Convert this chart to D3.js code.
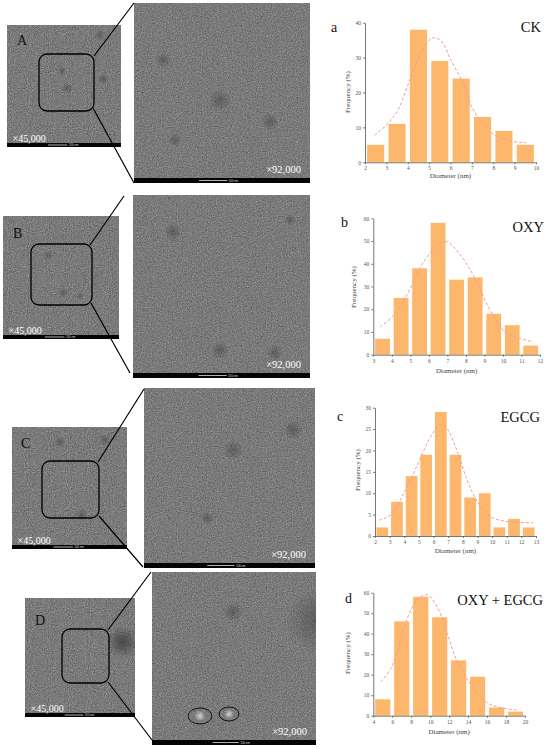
<!DOCTYPE html>
<html>
<head>
<meta charset="utf-8">
<script src="https://cdn.jsdelivr.net/npm/d3@7"></script>
<style>
  body { margin: 0; background: #fff; }
  svg { display: block; }
</style>
</head>
<body>
<div id="container"></div>
<script>
/* DATA */
const binsA = [2, 3, 4, 5, 6, 7, 8, 9];
const freqA = [5, 11, 38, 29, 24, 13, 9, 5];
const fitA = [[2.45, 7.8], [3, 10.7], [3.5, 14.5], [4, 22], [4.5, 30], [5, 35], [5.25, 35.7], [5.6, 34.5], [6, 29.5], [6.6, 22.6], [7.07, 15], [7.85, 8.8], [8.6, 6.4], [9.55, 5.6]];
const xTicksA = [2, 3, 4, 5, 6, 7, 8, 9, 10];
const yTicksA = [0, 10, 20, 30, 40];

const binsB = [3, 4, 5, 6, 7, 8, 9, 10, 11];
const freqB = [7, 25, 38, 58, 33, 34, 18, 13, 4];
const fitB = [[3.36, 12.3], [4, 16.5], [4.8, 26], [5.5, 38], [6.1, 45], [6.6, 49], [6.9, 50], [7.5, 46], [8.4, 35], [9.3, 19.7], [10.2, 9.4], [10.9, 7.2], [11.6, 5.7]];
const xTicksB = [3, 4, 5, 6, 7, 8, 9, 10, 11, 12];
const yTicksB = [0, 10, 20, 30, 40, 50, 60];

const binsC = [2, 3, 4, 5, 6, 7, 8, 9, 10, 11, 12];
const freqC = [2, 8, 14, 19, 29, 19, 9, 10, 2, 4, 2];
const fitC = [[2.27, 3.7], [3.07, 4.9], [3.97, 10], [4.9, 16.6], [5.8, 23.2], [6.47, 26], [6.9, 25.2], [7.6, 20], [8.3, 13], [9, 8], [9.9, 4.5], [11, 3.4], [12.8, 3.1]];
const xTicksC = [2, 3, 4, 5, 6, 7, 8, 9, 10, 11, 12, 13];
const yTicksC = [0, 5, 10, 15, 20, 25, 30];

const binsD = [4, 6, 8, 10, 12, 14, 16, 18];
const freqD = [8, 46, 58, 48, 27, 19, 4, 2];
const fitD = [[4.8, 16.6], [5.85, 23], [6.9, 37], [7.95, 51.5], [9, 58], [9.7, 59], [10.75, 53], [11.8, 40], [12.8, 27], [14.2, 15.8], [15.6, 7.6], [17, 4.4], [19.1, 2.8]];
const xTicksD = [4, 6, 8, 10, 12, 14, 16, 18, 20];
const yTicksD = [0, 10, 20, 30, 40, 50, 60];

const groups = ["CK", "OXY", "EGCG", "OXY + EGCG"];

/* LAYOUT */
const W = 550, H = 749;
const serif = "'Liberation Serif', 'DejaVu Serif', serif";

const svg = d3.select("#container")
  .append("svg")
    .attr("width", W)
    .attr("height", H);

const defs = svg.append("defs");

// TEM-like grain: medium gray with fine light speckles
function grainFilter(id, freq, seed) {
  const f = defs.append("filter")
    .attr("id", id)
    .attr("x", 0).attr("y", 0).attr("width", 1).attr("height", 1)
    .attr("color-interpolation-filters", "sRGB");
  f.append("feTurbulence")
    .attr("type", "fractalNoise")
    .attr("baseFrequency", freq)
    .attr("numOctaves", 2)
    .attr("seed", seed);
  f.append("feColorMatrix")
    .attr("type", "matrix")
    .attr("values", "0.33 0.33 0.34 0 0  0.33 0.33 0.34 0 0  0.33 0.33 0.34 0 0  0 0 0 0 1");
  const ct = f.append("feComponentTransfer");
  ["R", "G", "B"].forEach(c => ct.append("feFunc" + c)
    .attr("type", "linear").attr("slope", 0.6).attr("intercept", 0.18));
}
grainFilter("grainS", 0.95, 3);
grainFilter("grainB", 0.8, 7);

const dark = defs.append("radialGradient").attr("id", "dark");
dark.append("stop").attr("offset", "0%").attr("stop-color", "#2a2a2a").attr("stop-opacity", 0.38);
dark.append("stop").attr("offset", "100%").attr("stop-color", "#2a2a2a").attr("stop-opacity", 0);
const light = defs.append("radialGradient").attr("id", "light");
light.append("stop").attr("offset", "0%").attr("stop-color", "#eee").attr("stop-opacity", 0.75);
light.append("stop").attr("offset", "100%").attr("stop-color", "#eee").attr("stop-opacity", 0);

const images = [
  { letter: "A", lp: [17, 45],
    small: { x: 7, y: 25, w: 114, h: 122 }, box: { x: 39, y: 54, w: 55, h: 57 },
    big: { x: 134, y: 3, w: 176, h: 180 },
    lines: [[[94, 56], [134, 3]], [[93, 108], [134, 183]]],
    spotsS: [[100, 35, 6], [103, 79, 6], [67, 88, 6], [62, 71, 5]],
    spotsB: [[163, 60, 8], [220, 100, 11], [270, 122, 9], [175, 140, 7]] },
  { letter: "B", lp: [13, 238],
    small: { x: 3, y: 216, w: 116, h: 123 }, box: { x: 31, y: 244, w: 61, h: 61 },
    big: { x: 133, y: 195, w: 177, h: 183 },
    lines: [[[90, 245], [124, 196]], [[91, 303], [130, 373]]],
    spotsS: [[48, 255, 5], [63, 293, 5], [80, 296, 4]],
    spotsB: [[173, 232, 9], [220, 350, 9], [275, 353, 8], [290, 220, 6]] },
  { letter: "C", lp: [21, 448],
    small: { x: 12, y: 427, w: 115, h: 122 }, box: { x: 42, y: 461, w: 57, h: 57 },
    big: { x: 144, y: 388, w: 171, h: 180 },
    lines: [[[98, 462], [144, 389]], [[99, 516], [143, 567]]],
    spotsS: [[82, 515, 6], [60, 442, 6], [105, 440, 6]],
    spotsB: [[233, 450, 10], [293, 430, 10], [207, 518, 7]] },
  { letter: "D", lp: [35, 625],
    small: { x: 25, y: 598, w: 110, h: 119 }, box: { x: 62, y: 629, w: 47, h: 54 },
    big: { x: 152, y: 572, w: 164, h: 173 },
    lines: [[[108, 630], [151, 572]], [[108, 682], [152, 740]]],
    spotsS: [[124, 642, 18], [122, 642, 14]],
    spotsB: [[318, 620, 32], [233, 612, 10]],
    rings: [[200, 716, 12, 8], [229, 714, 10, 7]] }
];

function temImage(g, r, filt, spots, id, magText, barLabel, big) {
  const clip = defs.append("clipPath").attr("id", id);
  clip.append("rect").attr("x", r.x).attr("y", r.y).attr("width", r.w).attr("height", r.h);
  const gi = g.append("g").attr("clip-path", `url(#${id})`);
  gi.append("rect")
    .attr("x", r.x).attr("y", r.y).attr("width", r.w).attr("height", r.h)
    .attr("fill", "#7c7c7c")
    .attr("filter", `url(#${filt})`);
  gi.selectAll("circle.spot")
    .data(spots)
    .join("circle")
    .attr("class", "spot")
    .attr("cx", d => d[0]).attr("cy", d => d[1]).attr("r", d => d[2])
    .attr("fill", "url(#dark)");
  // black scale strip
  const bh = big ? 5 : 4;
  g.append("rect")
    .attr("x", r.x).attr("y", r.y + r.h - bh).attr("width", r.w).attr("height", bh)
    .attr("fill", "#050505");
  const bx = r.x + r.w * (big ? 0.37 : 0.36);
  const bl = r.w * (big ? 0.16 : 0.17);
  g.append("line")
    .attr("x1", bx).attr("x2", bx + bl)
    .attr("y1", r.y + r.h - bh / 2).attr("y2", r.y + r.h - bh / 2)
    .attr("stroke", "#ddd").attr("stroke-width", 0.8);
  g.append("text")
    .attr("x", bx + bl + 1.5).attr("y", r.y + r.h - bh / 2 + 1)
    .attr("font-family", "'Liberation Sans', sans-serif")
    .attr("font-size", 2.8).attr("fill", "#ddd")
    .text(barLabel);
  // magnification
  if (big) {
    g.append("text")
      .attr("x", r.x + r.w - 9).attr("y", r.y + r.h - bh - 5.5)
      .attr("text-anchor", "end")
      .attr("font-family", serif).attr("font-size", 10.5).attr("fill", "#fff")
      .text(magText);
  } else {
    g.append("text")
      .attr("x", r.x + 5.5).attr("y", r.y + r.h - bh - 1.5)
      .attr("font-family", serif).attr("font-size", 10).attr("fill", "#fff")
      .text(magText);
  }
}

images.forEach((p, i) => {
  const g = svg.append("g");
  temImage(g, p.small, "grainS", p.spotsS, "clipS" + i, "×45,000", "200 nm", false);
  temImage(g, p.big, "grainB", p.spotsB, "clipB" + i, "×92,000", "100 nm", true);

  g.append("text")
    .attr("x", p.lp[0]).attr("y", p.lp[1])
    .attr("font-family", serif).attr("font-size", 14).attr("fill", "#111")
    .text(p.letter);

  g.append("rect")
    .attr("x", p.box.x).attr("y", p.box.y)
    .attr("width", p.box.w).attr("height", p.box.h)
    .attr("rx", 8).attr("ry", 8)
    .attr("fill", "none").attr("stroke", "#000").attr("stroke-width", 1.3);

  g.selectAll("line.link")
    .data(p.lines)
    .join("line")
    .attr("class", "link")
    .attr("x1", d => d[0][0]).attr("y1", d => d[0][1])
    .attr("x2", d => d[1][0]).attr("y2", d => d[1][1])
    .attr("stroke", "#000").attr("stroke-width", 1.2);

  if (p.rings) {
    g.selectAll("circle.glow")
      .data(p.rings)
      .join("circle")
      .attr("class", "glow")
      .attr("cx", d => d[0]).attr("cy", d => d[1]).attr("r", d => d[3] * 0.7)
      .attr("fill", "url(#light)");
    g.selectAll("ellipse.ring")
      .data(p.rings)
      .join("ellipse")
      .attr("class", "ring")
      .attr("cx", d => d[0]).attr("cy", d => d[1])
      .attr("rx", d => d[2]).attr("ry", d => d[3])
      .attr("fill", "none").attr("stroke", "#111").attr("stroke-width", 1);
  }
});

/* HISTOGRAMS */
const hists = [
  { letter: "a", title: groups[0], bins: binsA, freq: freqA, fit: fitA, bw: 1,
    xTicks: xTicksA, yTicks: yTicksA,
    x0: 365, x1: 536, yTop: 22.7, yBot: 162.3,
    lp: [331, 32], tp: [541, 32], ylab: [350, 92], xlabY: 178 },
  { letter: "b", title: groups[1], bins: binsB, freq: freqB, fit: fitB, bw: 1,
    xTicks: xTicksB, yTicks: yTicksB,
    x0: 373.3, x1: 540, yTop: 218.3, yBot: 354.7,
    lp: [341, 227], tp: [544, 232], ylab: [356, 287], xlabY: 373 },
  { letter: "c", title: groups[2], bins: binsC, freq: freqC, fit: fitC, bw: 1,
    xTicks: xTicksC, yTicks: yTicksC,
    x0: 375, x1: 536, yTop: 407.7, yBot: 536,
    lp: [337, 421], tp: [540, 422], ylab: [360, 470], xlabY: 553 },
  { letter: "d", title: groups[3], bins: binsD, freq: freqD, fit: fitD, bw: 2,
    xTicks: xTicksD, yTicks: yTicksD,
    x0: 373.3, x1: 525, yTop: 592.7, yBot: 715.7,
    lp: [345, 603], tp: [543, 605], ylab: [350, 653], xlabY: 734 }
];

hists.forEach(h => {
  const g = svg.append("g");
  const x = d3.scaleLinear()
    .domain(d3.extent(h.xTicks))
    .range([h.x0, h.x1]);
  const y = d3.scaleLinear()
    .domain(d3.extent(h.yTicks))
    .range([h.yBot, h.yTop]);

  const pad = h.bw * 0.1;
  g.selectAll("rect.bar")
    .data(h.bins.map((b, i) => ({ b, v: h.freq[i] })))
    .join("rect")
    .attr("class", "bar")
    .attr("x", d => x(d.b + pad))
    .attr("width", d => x(d.b + h.bw - pad) - x(d.b + pad))
    .attr("y", d => y(d.v))
    .attr("height", d => y(0) - y(d.v))
    .attr("fill", "#fdb76c");

  const line = d3.line()
    .x(d => x(d[0]))
    .y(d => y(d[1]))
    .curve(d3.curveCatmullRom);
  g.append("path")
    .datum(h.fit)
    .attr("d", line)
    .attr("fill", "none")
    .attr("stroke", "#f49a9a")
    .attr("stroke-width", 1)
    .attr("stroke-dasharray", "3,2");

  const xAxis = g.append("g")
    .attr("transform", `translate(0,${h.yBot})`)
    .call(d3.axisBottom(x).tickValues(h.xTicks).tickSize(2).tickPadding(2).tickSizeOuter(0));
  const yAxis = g.append("g")
    .attr("transform", `translate(${h.x0},0)`)
    .call(d3.axisLeft(y).tickValues(h.yTicks).tickSize(2).tickPadding(2).tickSizeOuter(0));
  [xAxis, yAxis].forEach(a => {
    a.select(".domain").attr("stroke", "#555").attr("stroke-width", 0.8);
    a.selectAll(".tick line").attr("stroke", "#555").attr("stroke-width", 0.8);
    a.selectAll(".tick text")
      .attr("font-family", serif).attr("font-size", 5.5).attr("fill", "#555");
  });

  g.append("text")
    .attr("x", (h.x0 + h.x1) / 2).attr("y", h.xlabY)
    .attr("text-anchor", "middle")
    .attr("font-family", serif).attr("font-size", 7).attr("fill", "#444")
    .text("Diameter (nm)");

  g.append("text")
    .attr("transform", `translate(${h.ylab[0]},${h.ylab[1]}) rotate(-90)`)
    .attr("text-anchor", "middle")
    .attr("font-family", serif).attr("font-size", 7).attr("fill", "#444")
    .text("Frequency (%)");

  g.append("text")
    .attr("x", h.lp[0]).attr("y", h.lp[1])
    .attr("font-family", serif).attr("font-size", 14).attr("fill", "#111")
    .text(h.letter);

  g.append("text")
    .attr("x", h.tp[0]).attr("y", h.tp[1])
    .attr("text-anchor", "end")
    .attr("font-family", serif).attr("font-size", 14.5).attr("fill", "#111")
    .text(h.title);
});
</script>
</body>
</html>
